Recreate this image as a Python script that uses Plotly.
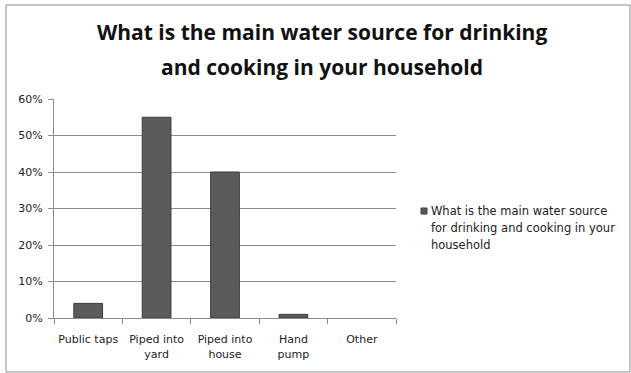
import plotly.graph_objects as go

# Survey responses: main drinking/cooking water source
categories = ["Public taps", "Piped into<br>yard", "Piped into<br>house", "Hand<br>pump", "Other"]
shares = [0.04, 0.55, 0.40, 0.01, 0.0]
legend_lines = ["What is the main water source", "for drinking and cooking in your", "household"]
title_lines = ["What is the main water source for drinking", "and cooking in your household"]
y_ticks = [0, 0.1, 0.2, 0.3, 0.4, 0.5, 0.6]
y_tick_labels = ["0%", "10%", "20%", "30%", "40%", "50%", "60%"]

W, H = 631, 373
L, R, T, B = 54, 396, 99, 318  # plot-area pixel bounds


def px_x(x):
    return (x - L) / (R - L)


def px_y(y):
    return (B - y) / (B - T)


FONT = "DejaVu Sans"
TITLE_FONT = "Open Sans"
TEXT_COLOR = "#222222"
BAR_COLOR = "#5b5b5b"

fig = go.Figure()
fig.add_trace(go.Bar(
    x=categories,
    y=shares,
    width=0.42,
    marker=dict(
        color=BAR_COLOR,
        line=dict(color="#3a3a3a", width=[1 if v > 0 else 0 for v in shares]),
    ),
    showlegend=False,
))

fig.update_layout(
    width=W, height=H,
    margin=dict(l=L, r=W - R, t=T, b=H - B),
    paper_bgcolor="white",
    plot_bgcolor="white",
    font=dict(family=FONT, size=11, color=TEXT_COLOR),
    showlegend=False,
    xaxis=dict(
        type="category",
        automargin=False,
        tickangle=0,
        showline=True, linecolor="#8c8c8c", linewidth=1,
        ticks="outside", ticklen=5, tickcolor="#8c8c8c", tickson="boundaries",
        showgrid=False,
        ticklabelstandoff=11,
        tickfont=dict(family=FONT, size=11, color=TEXT_COLOR),
    ),
    yaxis=dict(
        range=[0, 0.6],
        automargin=False,
        tickvals=y_ticks, ticktext=y_tick_labels,
        showline=True, linecolor="#8c8c8c", linewidth=1,
        ticks="outside", ticklen=5, tickcolor="#8c8c8c",
        showgrid=True, gridcolor="#8c8c8c", gridwidth=1,
        zeroline=False,
        ticklabelstandoff=3,
        tickfont=dict(family=FONT, size=11, color=TEXT_COLOR),
    ),
)

# Two-line bold title
for text, ypx in zip(title_lines, [32, 67]):
    fig.add_annotation(
        text="<b>" + text + "</b>",
        xref="paper", yref="paper",
        x=px_x(322), y=px_y(ypx),
        xanchor="center", yanchor="middle",
        showarrow=False,
        font=dict(family=TITLE_FONT, size=21, color="#111111"),
    )

# Legend: small swatch plus wrapped series name
fig.add_shape(
    type="rect", xref="paper", yref="paper",
    x0=px_x(421), x1=px_x(427), y0=px_y(214), y1=px_y(208),
    line=dict(color="#3a3a3a", width=1), fillcolor=BAR_COLOR,
)
for text, ypx in zip(legend_lines, [211, 228, 245]):
    fig.add_annotation(
        text=text,
        xref="paper", yref="paper",
        x=px_x(429), y=px_y(ypx),
        xanchor="left", yanchor="middle",
        showarrow=False,
        font=dict(family=FONT, size=11.5, color=TEXT_COLOR),
    )

# Outer chart frame
fig.add_shape(
    type="rect", xref="paper", yref="paper",
    x0=px_x(6), x1=px_x(630), y0=px_y(372), y1=px_y(5),
    line=dict(color="#8c8c8c", width=1), fillcolor="rgba(0,0,0,0)",
    layer="below",
)

fig.write_html("out.html")
